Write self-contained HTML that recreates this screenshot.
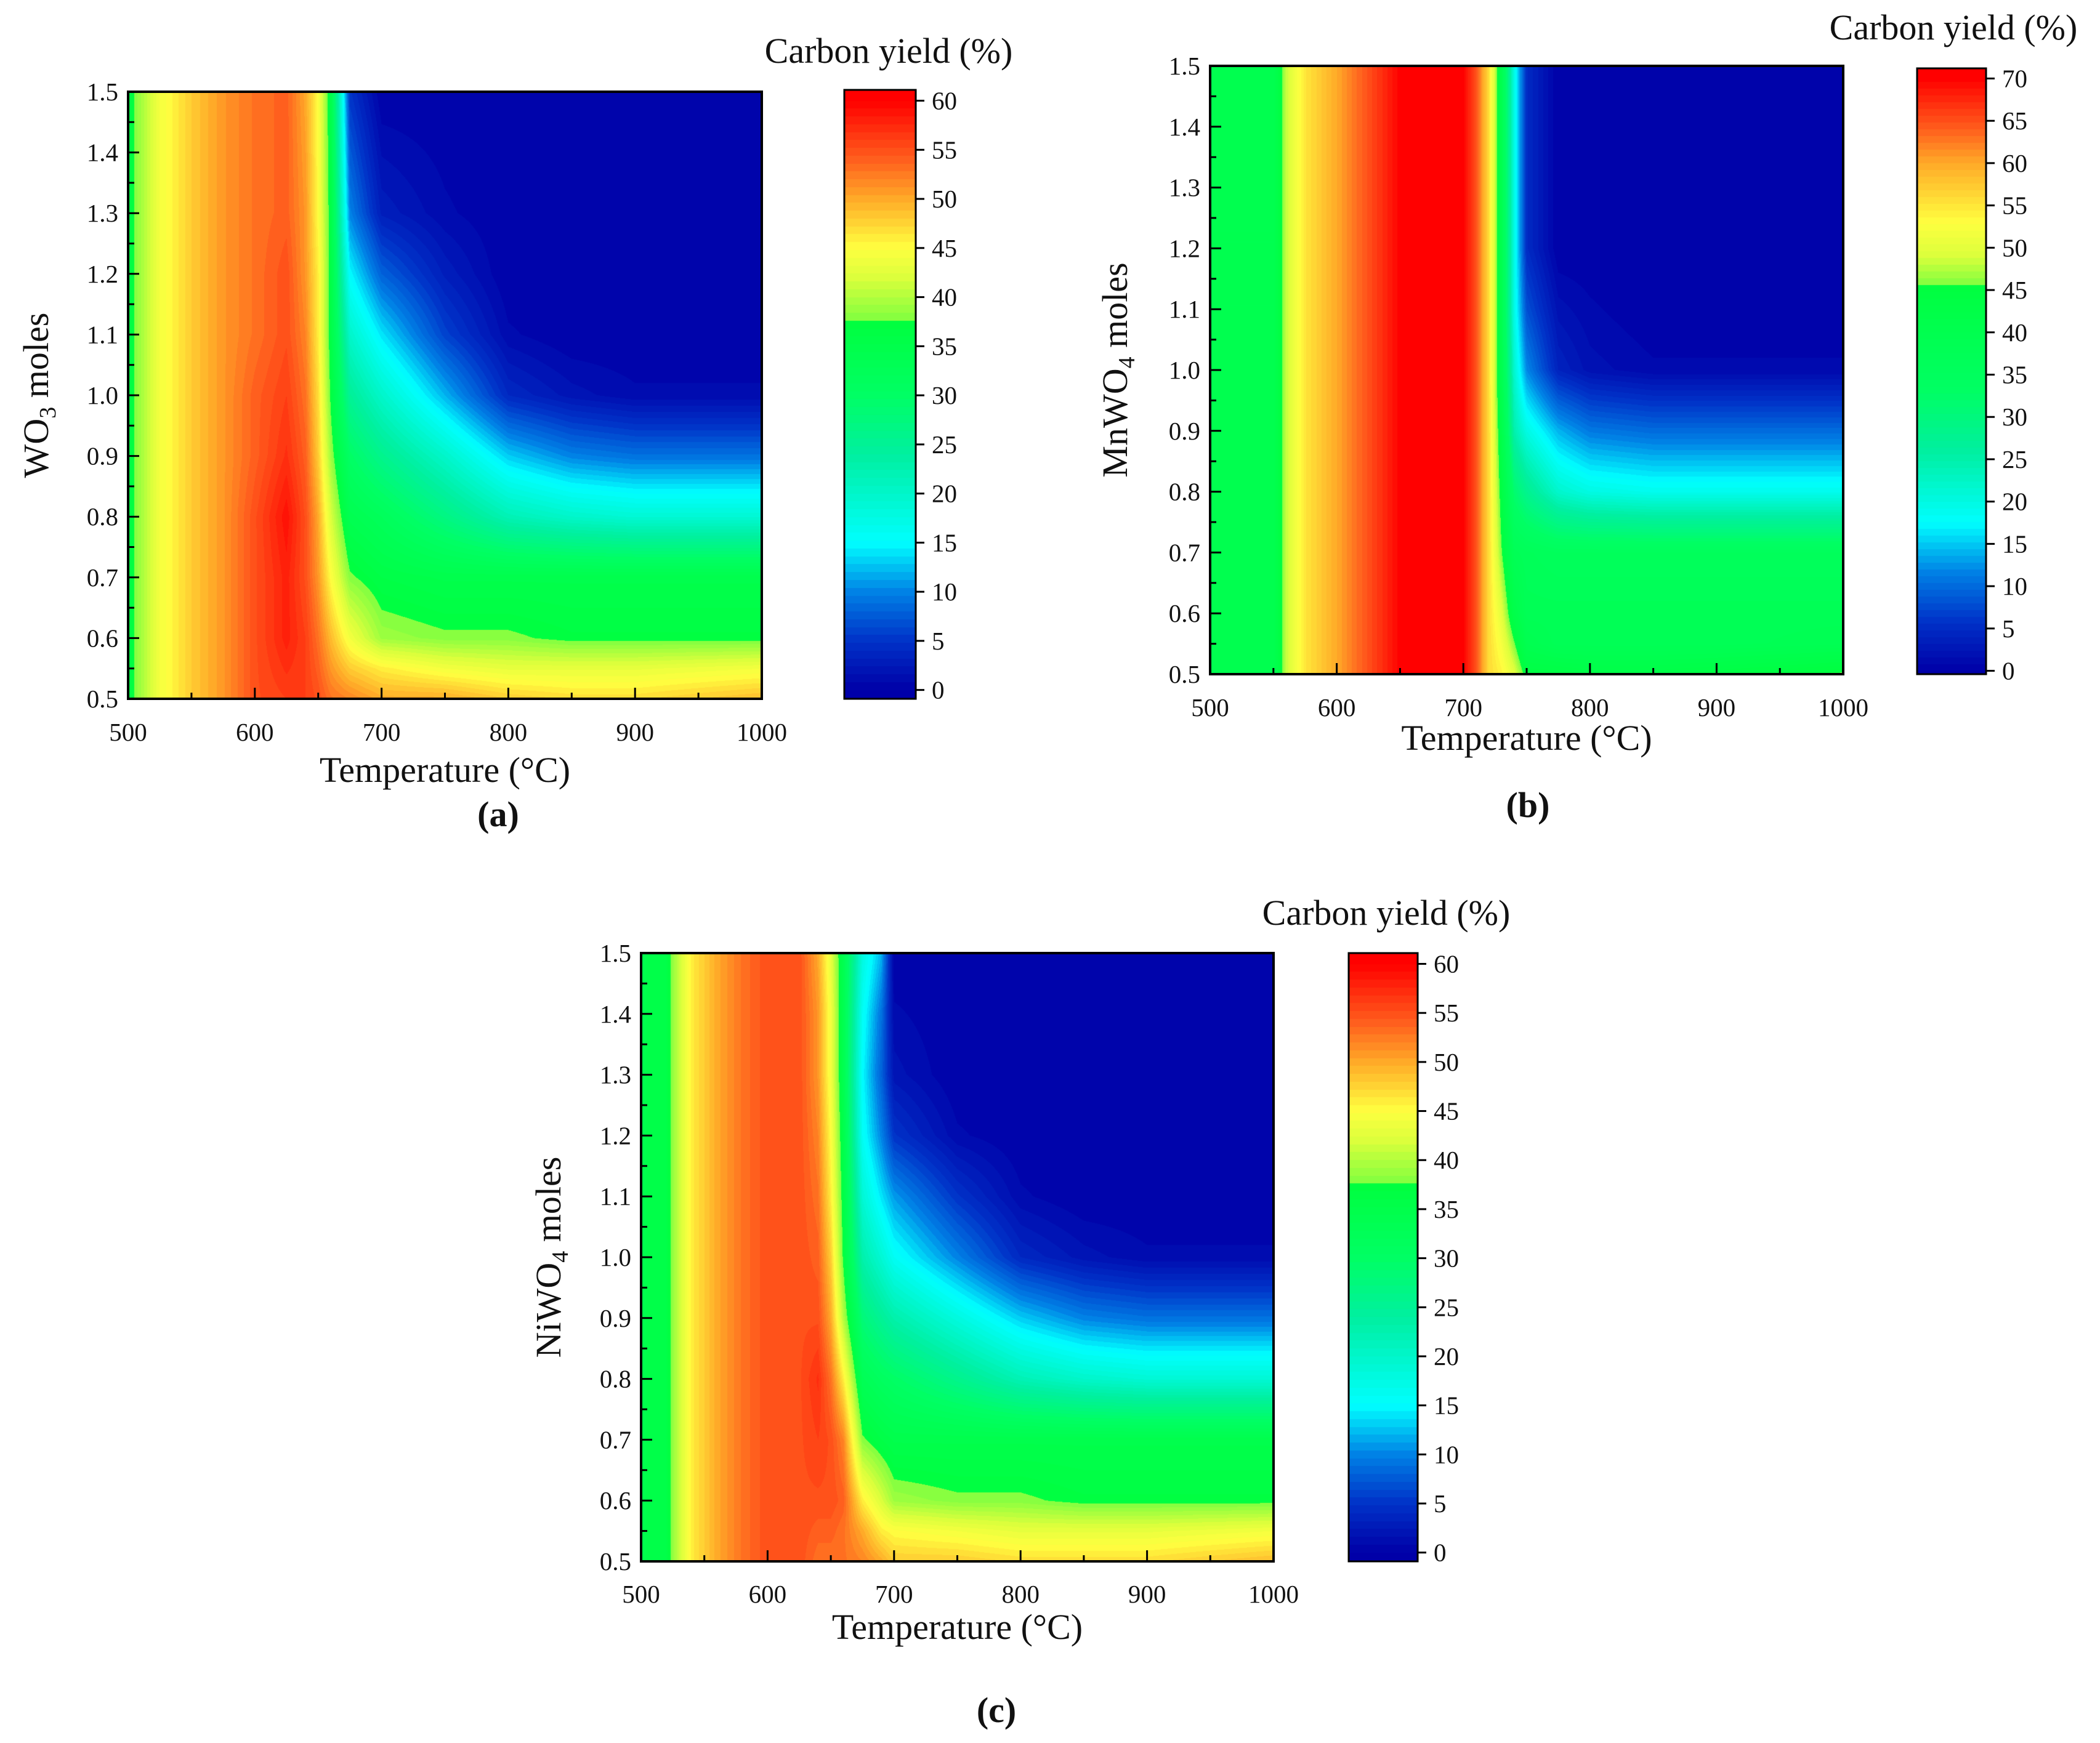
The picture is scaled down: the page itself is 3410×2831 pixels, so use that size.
<!DOCTYPE html>
<html><head><meta charset="utf-8"><title>Carbon yield contour maps</title>
<style>
html,body{margin:0;padding:0;background:#fff;}
#root{position:relative;width:3410px;height:2831px;overflow:hidden;background:#fff;}
canvas{position:absolute;}
svg{position:absolute;left:0;top:0;}
text{font-family:"Liberation Serif",serif;fill:#111;}
</style></head>
<body>
<div id="root">
<svg id="svg" width="3410" height="2831"></svg>
</div>
<script>
// ---------- DATA ----------
const xTicks=[500,600,700,800,900,1000];
const yTicks=[0.5,0.6,0.7,0.8,0.9,1.0,1.1,1.2,1.3,1.4,1.5];
const cbTicksA=[0,5,10,15,20,25,30,35,40,45,50,55,60];
const cbTicksB=[0,5,10,15,20,25,30,35,40,45,50,55,60,65,70];

// chart (a) WO3
const tempsA=[500,525,550,575,600,625,640,650,660,675,700,750,800,850,900,1000];
const molesA=[0.5,0.55,0.6,0.7,0.8,0.9,1.0,1.1,1.2,1.3,1.5];
const valsA=[
[36,44,48,51,55,56,56,55,53,52,50,50,48,47,47,49],
[36,44,48,51,55,57,56,54,51,48,46,44,43,43,43,44],
[36,44,48,51,55,58,56,53,49,44,39,38,38,37,37,37],
[36,44,48,51,55,58,55,51,45,38,36,35,35,35,35,35],
[36,44,48,51,55,59,55,50,42,34,32,27,22,20,19,19],
[36,44,48,51,54,57,54,48,39,30,26,20,13,10,9,9],
[36,44,48,51,54,56,53,47,37,25,20,12,4,2,1,1],
[36,44,48,51,53,55,52,46,36,20,14,6,1,0,0,0],
[36,44,48,51,53,55,51,46,36,15,8,3,0,0,0,0],
[36,44,48,51,53,54,51,45,36,10,3,1,0,0,0,0],
[36,44,48,51,53,54,50,45,35,5,0,0,0,0,0,0]];

// chart (b) MnWO4
const tempsB=[500,550,560,575,600,625,650,700,710,720,730,740,750,775,800,850,900,1000];
const molesB=[0.5,0.55,0.6,0.7,0.8,0.9,1.0,1.1,1.2,1.5];
const valsB=[
[40,40,48,55,60,65,70,70,65,56,54,50,44,44,43,43,44,46],
[40,40,48,55,60,65,70,70,65,56,52,46,40,38,38,38,38,39],
[40,40,48,55,60,65,70,70,65,56,50,42,38,38,38,38,38,38],
[40,40,48,55,60,65,70,70,65,56,46,38,37,36,36,36,36,36],
[40,40,48,55,60,65,70,70,65,56,44,32,28,22,20,19,19,19],
[40,40,48,55,60,65,70,70,65,56,42,25,20,14,11,10,10,10],
[40,40,48,55,60,65,70,70,65,56,40,22,12,4,2,1,1,1],
[40,40,48,55,60,65,70,70,65,56,40,20,8,2,1,0,0,0],
[40,40,48,55,60,65,70,70,65,56,40,20,5,0,0,0,0,0],
[40,40,48,55,60,65,70,70,65,56,40,20,5,0,0,0,0,0]];

// chart (c) NiWO4
const tempsC=[500,520,540,560,580,600,625,640,650,660,675,690,700,750,800,850,900,1000];
const molesC=[0.5,0.55,0.6,0.7,0.8,0.9,1.0,1.1,1.2,1.3,1.4,1.5];
const valsC=[
[35,36,46,50,53,55,55,53,53,53,52,50,48,48,47,47,47,49],
[35,36,46,50,53,55,55,54,54,53,50,46,45,44,43,43,43,44],
[35,36,46,50,53,55,55,55,55,54,46,42,39,38,38,37,37,37],
[35,36,46,50,53,55,55,56,55,52,38,36,35,35,35,35,35,35],
[35,36,46,50,53,55,55,57,53,46,33,31,30,26,22,20,19,19],
[35,36,46,50,53,55,55,55,50,40,28,25,23,18,13,10,9,9],
[35,36,46,50,53,55,55,54,48,37,23,19,16,10,4,2,1,1],
[35,36,46,50,53,55,55,53,46,36,19,14,11,5,1,0,0,0],
[35,36,46,50,53,55,55,52,45,35,16,10,5,1,0,0,0,0],
[35,36,46,50,53,55,55,51,44,34,15,8,2,0,0,0,0,0],
[35,36,46,50,53,55,55,51,44,34,16,9,1,0,0,0,0,0],
[35,36,46,50,53,55,55,50,43,34,18,12,0,0,0,0,0,0]];

// ---------- COLORMAPS ----------
const cmColors=[[0,0,168],[0,50,200],[0,130,230],[0,255,255],[0,240,160],[0,255,100],[0,255,64],[130,255,64],[220,255,60],[255,255,64],[255,170,40],[255,95,30],[255,0,0]];
const stopsA=[0,5,10,15,24,30,37.4,37.7,42,45,50,54,60];
const stopsB=[0,5.8,11.7,17.5,26,33,45.4,45.7,49,53,60,64,70];

function colorOf(v,stops){
  if(v<=stops[0])return cmColors[0];
  for(let i=0;i<stops.length-1;i++){
    if(v<=stops[i+1]){const t=(v-stops[i])/(stops[i+1]-stops[i]);const a=cmColors[i],b=cmColors[i+1];
      return [a[0]+(b[0]-a[0])*t,a[1]+(b[1]-a[1])*t,a[2]+(b[2]-a[2])*t];}
  }
  return cmColors[cmColors.length-1];
}
function seg(arr,x){let i=0;while(i<arr.length-2&&x>arr[i+1])i++;let t=(x-arr[i])/(arr[i+1]-arr[i]);t=Math.max(0,Math.min(1,t));return [i,t];}
function interp(temps,moles,vals,T,m){
  const [i,tx]=seg(temps,T),[j,ty]=seg(moles,m);
  const v00=vals[j][i],v10=vals[j][i+1],v01=vals[j+1][i],v11=vals[j+1][i+1];
  return (v00*(1-tx)+v10*tx)*(1-ty)+(v01*(1-tx)+v11*tx)*ty;
}

const root=document.getElementById('root');
const svg=document.getElementById('svg');
const NS='http://www.w3.org/2000/svg';
function mk(tag,attrs,parent){const e=document.createElementNS(NS,tag);for(const k in attrs)e.setAttribute(k,attrs[k]);(parent||svg).appendChild(e);return e;}

function drawChart(cfg){
  const {L,R,T,B,temps,moles,vals,stops,cb,cbTicks,cbMin,cbMax,id}=cfg;
  const xS=t=>L+(t-500)/500*(R-L);
  const yS=m=>B-(m-0.5)/1.0*(B-T);
  const w=R-L,h=B-T;
  const cv=document.createElement('canvas');
  cv.width=w;cv.height=h;cv.style.left=L+'px';cv.style.top=T+'px';
  
  
  root.insertBefore(cv,svg);
  const ctx=cv.getContext('2d');const img=ctx.createImageData(w,h);
  for(let y=0;y<h;y++){const m=1.5-(y+0.5)/h;
    for(let x=0;x<w;x++){const Tm=500+(x+0.5)/w*500;
      let v=interp(temps,moles,vals,Tm,m);v=Math.floor(v/0.8)*0.8+0.4;
      const c=colorOf(v,stops);const k=(y*w+x)*4;
      img.data[k]=c[0];img.data[k+1]=c[1];img.data[k+2]=c[2];img.data[k+3]=255;}}
  ctx.putImageData(img,0,0);
  const g=mk('g',{});
  
  
  mk('rect',{x:L,y:T,width:w,height:h,fill:'none',stroke:'#000','stroke-width':4},g);
  for(let t=500;t<=1000;t+=50){const x=xS(t);const major=t%100===0;
    mk('line',{x1:x,x2:x,y1:B,y2:B-(major?18:10),stroke:'#000','stroke-width':3},g);}
  xTicks.forEach(t=>{const e=mk('text',{x:xS(t),y:cfg.xLabY,'text-anchor':'middle','font-size':41},g);e.textContent=t;
    
    });
  for(let i=0;i<=20;i++){const m=0.5+i*0.05;const y=yS(m);const major=i%2===0;
    mk('line',{x1:L,x2:L+(major?18:10),y1:y,y2:y,stroke:'#000','stroke-width':3},g);}
  yTicks.forEach(m=>{const e=mk('text',{x:L-16,y:yS(m)+14,'text-anchor':'end','font-size':41},g);e.textContent=m.toFixed(1);
    
    });
  const xt=mk('text',{x:(L+R)/2,y:cfg.xTitY,'text-anchor':'middle','font-size':58},g);xt.textContent='Temperature (°C)';
  
  
  const yt=mk('text',{x:0,y:0,'text-anchor':'middle','font-size':58,transform:`translate(${cfg.yTitX},${(T+B)/2}) rotate(-90)`},g);
  
  
  const s1=document.createElementNS(NS,'tspan');s1.textContent=cfg.yPre;yt.appendChild(s1);
  const s2=document.createElementNS(NS,'tspan');s2.setAttribute('dy','12');s2.setAttribute('font-size','38');s2.textContent=cfg.ySub;yt.appendChild(s2);
  const s3=document.createElementNS(NS,'tspan');s3.setAttribute('dy','-12');s3.textContent=' moles';yt.appendChild(s3);
  const pl=mk('text',{x:cfg.lblX,y:cfg.lblY,'text-anchor':'middle','font-size':58,'font-weight':'bold'},g);pl.textContent=cfg.lbl;
  
  
  const cw=cb.R-cb.L,ch=cb.B-cb.T;
  const cc=document.createElement('canvas');cc.width=cw;cc.height=ch;cc.style.left=cb.L+'px';cc.style.top=cb.T+'px';
  
  
  root.insertBefore(cc,svg);
  const c2=cc.getContext('2d');
  const cbY=v=>cb.B-(v-cbMin)/(cbMax-cbMin)*ch;
  for(let y=0;y<ch;y++){let v=cbMax-(y+0.5)/ch*(cbMax-cbMin);v=Math.floor(v/0.8)*0.8+0.4;const c=colorOf(v,stops);
    c2.fillStyle=`rgb(${c[0]|0},${c[1]|0},${c[2]|0})`;c2.fillRect(0,y,cw,1);}
  mk('rect',{x:cb.L,y:cb.T,width:cw,height:ch,fill:'none',stroke:'#000','stroke-width':3},g);
  cbTicks.forEach(v=>{const y=cbY(v);mk('line',{x1:cb.R,x2:cb.R+14,y1:y,y2:y,stroke:'#000','stroke-width':3},g);
    const e=mk('text',{x:cb.R+26,y:y+14,'font-size':41},g);e.textContent=v;
    
    });
  const ct=mk('text',{x:cb.titX,y:cb.titY,'text-anchor':'middle','font-size':58},g);ct.textContent='Carbon yield (%)';
  
  
}

drawChart({id:'chart-a',L:208,R:1237,T:149,B:1135,temps:tempsA,moles:molesA,vals:valsA,stops:stopsA,
  cb:{L:1371,R:1487,T:146,B:1135,titX:1443,titY:102},cbTicks:cbTicksA,cbMin:-0.9,cbMax:61.1,
  xLabY:1203,xTitY:1270,yTitX:78,yPre:'WO',ySub:'3',lbl:'(a)',lblX:809,lblY:1342});
drawChart({id:'chart-b',L:1965,R:2993,T:107,B:1095,temps:tempsB,moles:molesB,vals:valsB,stops:stopsB,
  cb:{L:3113,R:3225,T:111,B:1095,titX:3172,titY:64},cbTicks:cbTicksB,cbMin:-0.4,cbMax:71.2,
  xLabY:1163,xTitY:1218,yTitX:1830,yPre:'MnWO',ySub:'4',lbl:'(b)',lblX:2481,lblY:1327});
drawChart({id:'chart-c',L:1041,R:2068,T:1548,B:2536,temps:tempsC,moles:molesC,vals:valsC,stops:stopsA,
  cb:{L:2190,R:2302,T:1548,B:2536,titX:2251,titY:1502},cbTicks:cbTicksA,cbMin:-0.9,cbMax:61.1,
  xLabY:2603,xTitY:2662,yTitX:910,yPre:'NiWO',ySub:'4',lbl:'(c)',lblX:1618,lblY:2797});
</script>
</body></html>
